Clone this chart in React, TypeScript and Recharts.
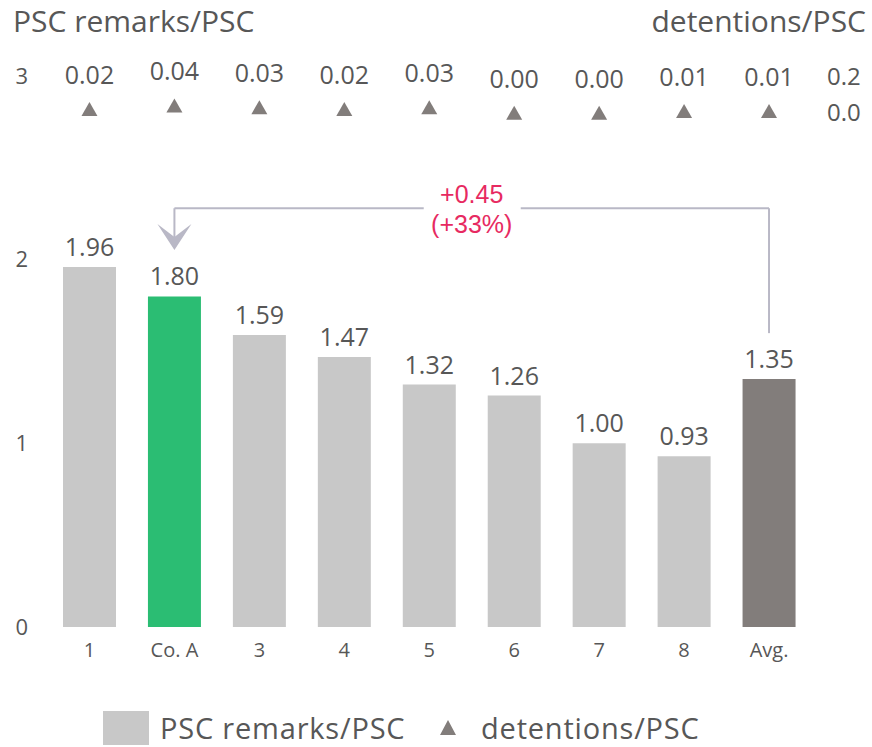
import React from 'react';
import {
  ComposedChart,
  Bar,
  Line,
  XAxis,
  YAxis,
  LabelList,
  Cell,
  ReferenceLine,
  ReferenceDot,
} from 'recharts';

const categories = ['1', 'Co. A', '3', '4', '5', '6', '7', '8', 'Avg.'];
const remarks = [1.96, 1.8, 1.59, 1.47, 1.32, 1.26, 1.0, 0.93, 1.35];
const detentions = [0.02, 0.04, 0.03, 0.02, 0.03, 0.0, 0.0, 0.01, 0.01];
const leftTicks = [0, 1, 2, 3];
const rightTicks = [0, 0.2];
const barColors = [
  '#c8c8c8',
  '#2bbd73',
  '#c8c8c8',
  '#c8c8c8',
  '#c8c8c8',
  '#c8c8c8',
  '#c8c8c8',
  '#c8c8c8',
  '#827d7b',
];
const diffLabel = ['+0.45', '(+33%)'];
const bracketY = 2.28;
const arrowTipY = 2.053;
const avgStartY = 1.6;

const data = categories.map((c, i) => ({
  name: c,
  remarks: remarks[i],
  detentions: detentions[i],
}));

const FONT = '"Open Sans", sans-serif';
const TEXT = '#575757';
const GREY_DARK = '#827d7b';
const LINE = '#b9b8c6';
const PINK = '#e72a61';

const Tri = (props: any) => {
  const { cx, cy } = props;
  if (cx == null || cy == null) return null;
  const w = 16;
  const h = 14;
  return (
    <path
      d={`M${cx},${cy - h / 2}L${cx + w / 2},${cy + h / 2}L${cx - w / 2},${cy + h / 2}Z`}
      fill={GREY_DARK}
    />
  );
};

const Arrow = (props: any) => {
  const { cx, cy } = props;
  if (cx == null || cy == null) return null;
  return (
    <path
      d={`M${cx},${cy}L${cx - 17},${cy - 26}L${cx},${cy - 13}L${cx + 17},${cy - 26}Z`}
      fill={LINE}
    />
  );
};

const AnnLabel = (props: any) => {
  const vb = props.viewBox || {};
  const cx = (vb.x || 0) + (vb.width || 0) / 2;
  const cy = (vb.y || 0) + (vb.height || 0) / 2;
  return (
    <g>
      <rect x={cx - 48} y={cy - 6} width={97} height={12} fill="#fff" />
      <text
        x={cx}
        y={cy - 5}
        textAnchor="middle"
        fill={PINK}
        fontSize={25}
        fontFamily='"Liberation Sans", Arial, sans-serif'
      >
        {diffLabel[0]}
      </text>
      <text
        x={cx}
        y={cy + 25}
        textAnchor="middle"
        fill={PINK}
        fontSize={25}
        fontFamily='"Liberation Sans", Arial, sans-serif'
      >
        {diffLabel[1]}
      </text>
    </g>
  );
};

export default function App() {
  return (
    <div style={{ position: 'absolute', left: 0, top: 0, width: 872, height: 747, background: '#fff' }}>
      <ComposedChart
        width={872}
        height={747}
        data={data}
        margin={{ top: 76, right: 0, bottom: 80, left: 0 }}
        barCategoryGap="18%"
      >
        <XAxis
          dataKey="name"
          height={40}
          axisLine={false}
          tickLine={false}
          tickSize={0}
          tickMargin={16}
          interval={0}
          tick={{ fill: TEXT, fontSize: 20, fontFamily: FONT }}
        />
        <YAxis
          yAxisId="left"
          orientation="left"
          width={47}
          domain={[0, 3]}
          ticks={leftTicks}
          interval={0}
          axisLine={false}
          tickLine={false}
          tickSize={0}
          tickMargin={19}
          tick={{ fill: TEXT, fontSize: 22, fontFamily: FONT }}
        />
        <YAxis
          yAxisId="right"
          orientation="right"
          width={60.5}
          domain={[-2.8, 0.2]}
          ticks={rightTicks}
          interval={0}
          axisLine={false}
          tickLine={false}
          tickSize={0}
          tickMargin={15.5}
          tickFormatter={(v: number) => v.toFixed(1)}
          tick={{ fill: TEXT, fontSize: 24, fontFamily: FONT }}
        />
        <Bar yAxisId="left" dataKey="remarks" barSize={53} isAnimationActive={false}>
          {data.map((d, i) => (
            <Cell key={d.name} fill={barColors[i]} />
          ))}
          <LabelList
            dataKey="remarks"
            position="top"
            offset={11}
            formatter={(v: any) => Number(v).toFixed(2)}
            style={{ fill: TEXT, fontSize: 25, fontFamily: FONT }}
          />
        </Bar>
        <Line
          yAxisId="right"
          dataKey="detentions"
          stroke="none"
          dot={<Tri />}
          activeDot={false}
          isAnimationActive={false}
        >
          <LabelList
            dataKey="detentions"
            position="top"
            offset={25}
            formatter={(v: any) => Number(v).toFixed(2)}
            style={{ fill: TEXT, fontSize: 25, fontFamily: FONT }}
          />
        </Line>
        <ReferenceLine
          yAxisId="left"
          segment={[
            { x: 'Co. A', y: bracketY },
            { x: 'Avg.', y: bracketY },
          ]}
          stroke={LINE}
          strokeWidth={2}
          label={AnnLabel}
        />
        <ReferenceLine
          yAxisId="left"
          segment={[
            { x: 'Co. A', y: bracketY },
            { x: 'Co. A', y: arrowTipY + 0.05 },
          ]}
          stroke={LINE}
          strokeWidth={2}
        />
        <ReferenceLine
          yAxisId="left"
          segment={[
            { x: 'Avg.', y: bracketY },
            { x: 'Avg.', y: avgStartY },
          ]}
          stroke={LINE}
          strokeWidth={2}
        />
        <ReferenceDot yAxisId="left" x="Co. A" y={arrowTipY} shape={Arrow} />
      </ComposedChart>
      <svg
        width={872}
        height={747}
        style={{ position: 'absolute', left: 0, top: 0, pointerEvents: 'none' }}
      >
        <text x={13} y={32} fill={TEXT} fontSize={30} fontFamily={FONT}>
          PSC remarks/PSC
        </text>
        <text x={866} y={32} textAnchor="end" fill={TEXT} fontSize={30} fontFamily={FONT}>
          detentions/PSC
        </text>
        <rect x={103} y={711} width={46} height={34} fill="#c8c8c8" />
        <text x={160} y={739} fill={TEXT} fontSize={29} letterSpacing={0.8} fontFamily={FONT}>
          PSC remarks/PSC
        </text>
        <path d="M448,720L456,735L440,735Z" fill={GREY_DARK} />
        <text x={481} y={739} fill={TEXT} fontSize={29} letterSpacing={0.8} fontFamily={FONT}>
          detentions/PSC
        </text>
      </svg>
    </div>
  );
}
